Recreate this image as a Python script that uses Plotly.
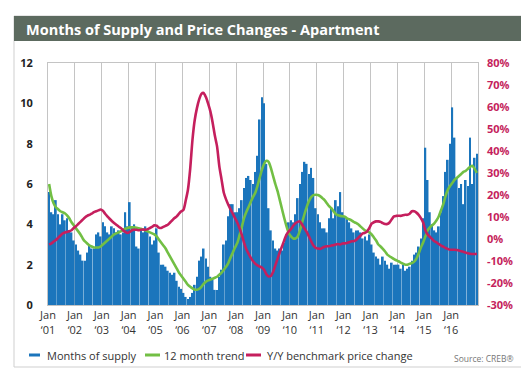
import plotly.graph_objects as go

# ---------------- data ----------------
years = list(range(2001, 2017))
tick_labels = [f"Jan<br>‘{str(y)[2:]}" for y in years]

# monthly months-of-supply, Jan 2001 .. Dec 2016
months_of_supply = [
    5.6, 4.6, 4.5, 5.2, 4.5, 4.0, 4.5, 4.2, 4.3, 3.7, 3.6, 3.2,   # 2001
    3.0, 2.7, 2.5, 2.2, 2.2, 2.6, 3.0, 2.8, 2.8, 3.5, 3.6, 3.4,   # 2002
    4.1, 3.9, 3.6, 3.5, 3.9, 3.8, 3.6, 3.7, 3.5, 3.6, 4.6, 3.9,   # 2003
    5.1, 3.9, 4.0, 2.9, 2.8, 3.7, 3.6, 3.9, 3.7, 3.4, 3.0, 3.2,   # 2004
    3.8, 2.6, 2.0, 2.0, 1.9, 1.7, 1.6, 1.5, 1.6, 1.2, 0.9, 0.8,   # 2005
    0.6, 0.4, 0.3, 0.4, 0.6, 1.0, 1.4, 2.2, 2.4, 2.8, 2.3, 1.9,   # 2006
    1.4, 1.25, 0.75, 0.75, 1.4, 1.75, 3.0, 3.2, 4.4, 5.0, 5.0, 4.6,  # 2007
    4.6, 4.8, 5.2, 5.8, 6.3, 6.4, 6.2, 6.0, 6.6, 7.4, 9.2, 10.3,  # 2008
    10.0, 7.0, 4.8, 3.7, 3.2, 2.8, 2.7, 2.8, 2.7, 3.1, 3.5, 4.1,  # 2009
    4.2, 4.1, 4.5, 5.3, 6.0, 6.6, 7.1, 7.0, 6.5, 6.8, 6.3, 4.8,   # 2010
    4.5, 4.1, 3.8, 3.8, 3.6, 4.3, 4.8, 4.3, 5.2, 4.9, 5.6, 4.6,   # 2011
    4.4, 4.3, 4.1, 3.8, 3.6, 3.7, 3.7, 3.6, 3.3, 3.4, 3.2, 3.5,   # 2012
    3.0, 2.6, 2.4, 2.3, 2.0, 2.4, 2.2, 2.0, 1.8, 2.1, 2.0, 2.0,   # 2013
    2.0, 1.8, 2.0, 1.7, 1.8, 1.9, 2.2, 2.5, 2.6, 2.9, 3.3, 4.3,   # 2014
    7.8, 6.2, 4.6, 4.0, 3.7, 3.6, 3.9, 4.6, 5.4, 6.6, 7.2, 8.0,   # 2015
    9.8, 8.3, 6.3, 5.8, 6.0, 5.0, 6.2, 5.9, 8.3, 6.0, 7.3, 7.5,   # 2016
]

trend_12_month = [
    6.0, 5.4, 5.05, 4.85, 4.75, 4.65, 4.6, 4.55, 4.45, 4.3, 4.1, 3.95,
    3.8, 3.65, 3.5, 3.3, 3.15, 3.05, 2.95, 2.9, 2.85, 2.85, 2.85, 2.9,
    3.0, 3.1, 3.2, 3.3, 3.4, 3.5, 3.55, 3.6, 3.65, 3.72, 3.78, 3.82,
    3.85, 3.85, 3.85, 3.83, 3.8, 3.78, 3.74, 3.7, 3.65, 3.6, 3.55, 3.5,
    3.4, 3.25, 3.1, 2.95, 2.8, 2.6, 2.4, 2.2, 2.0, 1.8, 1.6, 1.45,
    1.3, 1.15, 1.0, 0.9, 0.82, 0.76, 0.76, 0.8, 0.9, 1.05, 1.15, 1.22,
    1.26, 1.3, 1.35, 1.4, 1.5, 1.6, 1.75, 1.9, 2.08, 2.35, 2.6, 2.85,
    3.07, 3.45, 3.85, 4.3, 4.6, 4.85, 5.1, 5.35, 5.55, 5.9, 6.3, 6.7,
    7.0, 7.15, 7.1, 6.8, 6.4, 6.0, 5.65, 5.2, 4.75, 4.3, 3.9, 3.57,
    3.4, 3.3, 3.3, 3.4, 3.7, 4.1, 4.5, 4.85, 5.15, 5.35, 5.45, 5.47,
    5.45, 5.4, 5.3, 5.2, 5.05, 4.9, 4.8, 4.65, 4.5, 4.45, 4.42, 4.4,
    4.38, 4.3, 4.25, 4.2, 4.12, 4.07, 4.0, 3.9, 3.8, 3.7, 3.65, 3.6,
    3.5, 3.35, 3.2, 3.0, 2.9, 2.78, 2.65, 2.5, 2.42, 2.35, 2.28, 2.22,
    2.17, 2.1, 2.05, 2.0, 2.0, 2.05, 2.08, 2.15, 2.3, 2.55, 2.85, 3.1,
    3.4, 3.7, 3.85, 3.95, 4.05, 4.2, 4.4, 4.7, 5.0, 5.4, 5.7, 5.9,
    6.05, 6.2, 6.3, 6.4, 6.5, 6.6, 6.65, 6.75, 6.85, 6.9, 6.75, 6.55,
]

yy_price_change = [
    -2.6, -2.0, -1.2, -0.5, 0.5, 1.5, 2.5, 3.0, 3.2, 3.5, 4.0, 5.0,
    5.8, 6.8, 7.8, 8.8, 9.8, 10.5, 11.0, 11.5, 12.2, 12.6, 13.0, 13.4,
    12.8, 11.5, 10.3, 9.2, 8.2, 7.3, 6.5, 5.7, 5.0, 4.0, 3.2, 2.7,
    3.2, 4.0, 4.2, 4.2, 4.0, 4.2, 4.3, 4.2, 4.5, 5.0, 5.5, 6.2,
    6.0, 5.2, 5.0, 5.5, 6.0, 6.5, 7.5, 8.5, 9.5, 10.3, 11.5, 12.6,
    13.3, 17.5, 22.5, 32.0, 45.0, 54.0, 59.5, 63.5, 66.0, 66.4, 64.5, 61.5,
    58.0, 53.0, 47.0, 42.0, 33.0, 27.0, 21.0, 18.0, 15.6, 13.5, 11.5, 9.5,
    7.5, 5.0, 2.0, -1.5, -4.5, -6.5, -8.5, -10.0, -11.2, -12.0, -12.5, -13.0,
    -14.0, -16.0, -17.0, -16.8, -15.0, -12.0, -9.0, -6.0, -3.3, -0.5, 2.0, 3.5,
    4.5, 6.0, 7.2, 7.8, 8.0, 6.5, 4.8, 3.2, 1.2, -1.0, -3.0, -4.0,
    -4.3, -4.5, -4.0, -3.5, -3.3, -3.3, -3.0, -2.8, -2.5, -2.3, -2.5, -2.0,
    -2.0, -1.8, -1.5, -1.0, -1.0, -0.5, 0.5, 1.5, 2.5, 2.8, 3.5, 5.0,
    7.0, 7.6, 8.0, 8.0, 7.8, 7.2, 6.8, 6.8, 7.5, 9.0, 10.3, 10.5,
    10.6, 10.5, 10.8, 11.0, 11.0, 11.5, 12.6, 12.6, 12.0, 11.0, 9.5, 7.5,
    4.0, 2.0, 1.0, 0.0, -1.0, -1.5, -2.3, -3.0, -3.5, -4.1, -4.5, -4.9,
    -4.9, -4.9, -5.0, -5.2, -5.6, -5.8, -6.2, -6.5, -6.7, -6.8, -6.8, -6.7,
]

left_ticks = [0, 2, 4, 6, 8, 10, 12]
right_ticks = list(range(-30, 81, 10))
right_tick_labels = [f"<b>{v}%</b>" for v in right_ticks]
left_tick_labels = [f"<b>{v}</b>" for v in left_ticks]

# ---------------- styling ----------------
BLUE = "#1b75bc"
GREEN = "#72bf44"
RED = "#c51f5d"
GRID = "#c4c4c4"
TEXT = "#333333"
FONT = "Open Sans"

W, H = 529, 370
L, R, T, B = 40, 470, 55, 297


def px(x):
    return (x - L) / (R - L)


def py(y):
    return (B - y) / (B - T)


n = len(months_of_supply)
xm = [i + 0.5 for i in range(n)]

fig = go.Figure()
fig.add_trace(go.Bar(x=xm, y=months_of_supply, marker_color=BLUE,
                     marker_line_width=0, name="Months of supply"))
fig.add_trace(go.Scatter(x=xm, y=trend_12_month, mode="lines",
                         line=dict(color=GREEN, width=2.6, shape="spline", smoothing=0.6),
                         name="12 month trend"))
fig.add_trace(go.Scatter(x=xm, y=yy_price_change, mode="lines", yaxis="y2",
                         line=dict(color=RED, width=2.6, shape="spline", smoothing=0.6),
                         name="Y/Y benchmark price change"))

shapes = [
    dict(type="rect", xref="paper", yref="paper", x0=px(6), x1=px(518), y0=py(359), y1=py(8),
         line=dict(color="#cfcfcf", width=1), fillcolor="rgba(0,0,0,0)", layer="below"),
    dict(type="rect", xref="paper", yref="paper", x0=px(6), x1=px(518), y0=py(33), y1=py(8),
         line=dict(width=0), fillcolor="#5c6a5f", layer="below"),
]

annotations = [
    dict(text="<b>Months of Supply and Price Changes - Apartment</b>", xref="paper", yref="paper",
         x=px(16), y=py(21), xanchor="left", yanchor="middle", showarrow=False,
         font=dict(family=FONT, size=14.5, color="white")),
    dict(text="Source: CREB®", xref="paper", yref="paper", x=px(508), y=py(350),
         xanchor="right", yanchor="middle", showarrow=False,
         font=dict(family=FONT, size=8.5, color="#777777")),
]

legend_items = [
    ("Months of supply", BLUE, 21, 32, 37),
    ("12 month trend", GREEN, 137, 152, 154),
    ("Y/Y benchmark price change", RED, 238, 253, 257),
]
for label, col, x0, x1, xt in legend_items:
    shapes.append(dict(type="line", xref="paper", yref="paper", x0=px(x0), x1=px(x1),
                       y0=py(347), y1=py(347), line=dict(color=col, width=3)))
    annotations.append(dict(text=label, xref="paper", yref="paper", x=px(xt), y=py(347),
                            xanchor="left", yanchor="middle", showarrow=False,
                            font=dict(family=FONT, size=11, color=TEXT)))

fig.update_layout(
    width=W, height=H,
    margin=dict(l=L, r=W - R, t=T, b=H - B, pad=0),
    paper_bgcolor="white", plot_bgcolor="white",
    showlegend=False, bargap=0.22,
    font=dict(family=FONT, color=TEXT),
    xaxis=dict(range=[0, n], tickvals=[12 * k for k in range(len(years))], ticktext=tick_labels,
               showgrid=True, gridcolor=GRID, gridwidth=1, showline=True, linecolor=GRID,
               mirror=True, ticks="", tickfont=dict(size=11, color=TEXT), zeroline=False,
               tickangle=0),
    yaxis=dict(range=[0, 12], tickvals=left_ticks, ticktext=left_tick_labels,
               showgrid=False, zeroline=False,
               showline=True, linecolor=GRID, mirror=True, ticks="",
               tickfont=dict(size=11, color="#222222"), ticklabelstandoff=12),
    yaxis2=dict(range=[-30, 80], tickvals=right_ticks, ticktext=right_tick_labels,
                overlaying="y", side="right", showgrid=False, zeroline=False, ticks="",
                tickfont=dict(size=11, color=RED, family=FONT), ticklabelstandoff=8),
    shapes=shapes, annotations=annotations,
)

fig.write_html("out.html")
